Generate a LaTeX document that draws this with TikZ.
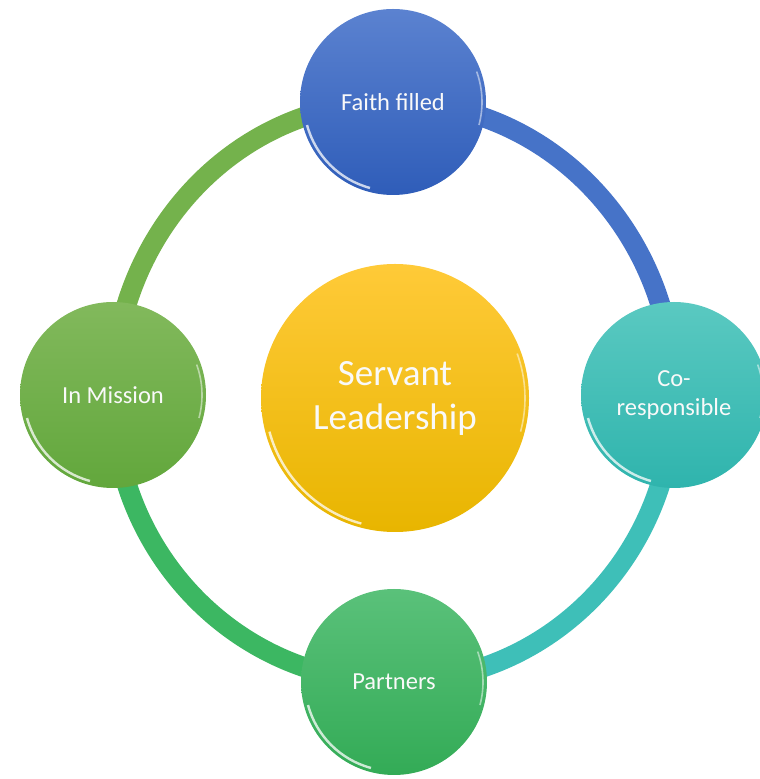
\documentclass[tikz,border=0pt]{standalone}
\usepackage{fontspec}
\setmainfont{Carlito}
\usetikzlibrary{backgrounds}

\definecolor{faithtop}{HTML}{5B82D0}
\definecolor{faithbot}{HTML}{2F5DB9}
\definecolor{cotop}{HTML}{5AC9C1}
\definecolor{cobot}{HTML}{2FB4AD}
\definecolor{parttop}{HTML}{5AC17A}
\definecolor{partbot}{HTML}{33AB56}
\definecolor{misstop}{HTML}{82B95C}
\definecolor{missbot}{HTML}{62A73C}
\definecolor{servtop}{HTML}{FFCA38}
\definecolor{servbot}{HTML}{E8B500}
\definecolor{ringgreen}{HTML}{74B24C}
\definecolor{ringblue}{HTML}{4673C8}
\definecolor{ringteal}{HTML}{3EBFB8}
\definecolor{ringmint}{HTML}{3CB762}

\tikzset{
  shine/.style={path picture={
      \draw[white,opacity=.75,line width=2.4pt] ([shift={(195:#1)}]path picture bounding box.center) arc (195:255:#1);
      \draw[white,opacity=.5,line width=1.6pt] ([shift={(-15:#1)}]path picture bounding box.center) arc (-15:20:#1);}},
  bubble/.style={circle,minimum size=186pt,inner sep=0pt,text=white!95!gray,align=center,
    font=\fontsize{24.5}{29}\selectfont,shine=89pt},
  hub/.style={bubble,minimum size=268pt,font=\fontsize{37}{44}\selectfont,shine=130pt},
  ring/.style={line width=20pt},
}

\begin{document}
\begin{tikzpicture}[x=1pt,y=1pt]
  \useasboundingbox (0,0) rectangle (760,779);
  % outer bubbles
  \node[bubble,top color=faithtop,bottom color=faithbot] (faith) at (393,677) {Faith filled};
  \node[bubble,top color=cotop,bottom color=cobot] (coresp) at (674,384) {Co-\\responsible};
  \node[bubble,top color=parttop,bottom color=partbot] (partners) at (394,97) {Partners};
  \node[bubble,top color=misstop,bottom color=missbot] (mission) at (113,384) {In Mission};
  % centre
  \node[hub,top color=servtop,bottom color=servbot] (servant) at (395,381) {Servant\\Leadership};
  % ring behind the bubbles
  \begin{pgfonlayer}{background}
    \draw[ring,draw=ringgreen] (mission.center) to[out=90,in=180] (faith.center);
    \draw[ring,draw=ringblue] (faith.center) to[out=0,in=90] (coresp.center);
    \draw[ring,draw=ringteal] (coresp.center) to[out=-90,in=0] (partners.center);
    \draw[ring,draw=ringmint] (partners.center) to[out=180,in=-90] (mission.center);
  \end{pgfonlayer}
\end{tikzpicture}
\end{document}
